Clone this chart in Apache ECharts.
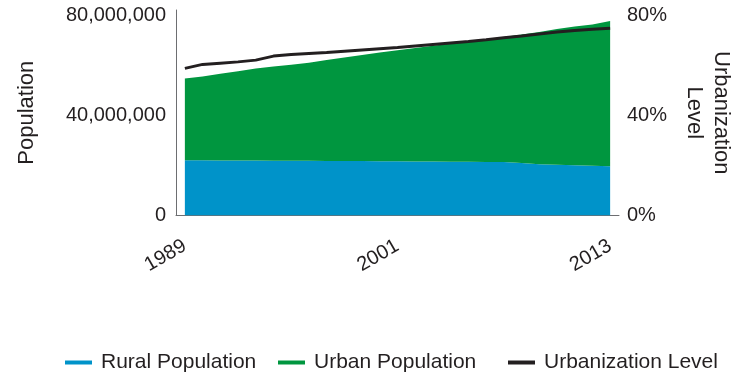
<!DOCTYPE html>
<html>
<head>
<meta charset="utf-8">
<script src="https://cdn.jsdelivr.net/npm/echarts@6/dist/echarts.min.js"></script>
<style>
html,body{margin:0;padding:0;background:#fff;}
#chart{width:743px;height:374px;}
</style>
</head>
<body>
<div id="chart"></div>
<script>
const years = ['1989','1990','1991','1992','1993','1994','1995','1996','1997','1998','1999','2000','2001','2002','2003','2004','2005','2006','2007','2008','2009','2010','2011','2012','2013'];
const ruralPopulation = [22000000,22000000,21950000,21900000,21900000,21850000,21800000,21800000,21750000,21700000,21700000,21650000,21600000,21550000,21500000,21450000,21400000,21350000,21300000,20900000,20500000,20300000,20100000,19900000,19700000];
const urbanPopulation = [32700000,33500000,34650000,35700000,36800000,37650000,38400000,39200000,40250000,41300000,42300000,43350000,44300000,45250000,46200000,47150000,48000000,48950000,49900000,51300000,52700000,54100000,55300000,56300000,57900000];
const urbanizationLevel = [58.7,60.3,60.8,61.3,62.0,63.6,64.2,64.6,65.0,65.5,66.0,66.5,67.0,67.6,68.2,68.8,69.4,70.1,70.9,71.6,72.4,73.2,73.8,74.3,74.7];
const populationTicks = [0, 40000000, 80000000];
const levelTicks = [0, 40, 80];
const seriesNames = ['Rural Population','Urban Population','Urbanization Level'];

const FONT = "'Liberation Sans', Arial, sans-serif";
const TXT = '#231f20';
const BLUE = '#0093c9';
const GREEN = '#00963f';
const BLACK = '#231f20';

const legendLefts = [65, 278, 508];
const legends = seriesNames.map((n, i) => ({
  left: legendLefts[i], top: 352, padding: 0,
  icon: 'rect', itemWidth: 27, itemHeight: 4,
  textStyle: {fontFamily: FONT, fontSize: 21, color: TXT, padding: [0,0,0,4]},
  data: [n]
}));

const chart = echarts.init(document.getElementById('chart'), null, {renderer:'canvas'});
chart.setOption({
  animation: false,
  textStyle: {fontFamily: FONT, color: TXT},
  grid: {left: 176, right: 122, top: 10, bottom: 158.5, containLabel: false},
  legend: legends,
  xAxis: {
    type: 'category', data: years, boundaryGap: true,
    axisLine: {show: true, lineStyle: {color: '#6d6e71', width: 1}},
    axisTick: {show: false},
    axisLabel: {interval: 11, rotate: 30, margin: 29, fontSize: 20, color: TXT, fontFamily: FONT}
  },
  yAxis: [{
    type: 'value', min: 0, max: 82000000, interval: 40000000,
    name: 'Population', nameLocation: 'middle', nameRotate: 90, nameGap: 138,
    nameTextStyle: {fontSize: 22, color: TXT, fontFamily: FONT},
    axisLine: {show: true, lineStyle: {color: '#6d6e71', width: 1}},
    axisTick: {show: false}, splitLine: {show: false},
    axisLabel: {margin: 10, fontSize: 20, color: TXT, fontFamily: FONT, padding: [4,0,0,0],
      formatter: v => populationTicks.includes(v) ? v.toLocaleString('en-US') : ''}
  },{
    type: 'value', min: 0, max: 82, interval: 40, position: 'right',
    name: 'Urbanization\nLevel', nameLocation: 'middle', nameRotate: -90, nameGap: 62,
    nameTextStyle: {fontSize: 22, lineHeight: 27, color: TXT, fontFamily: FONT, align: 'center'},
    axisLine: {show: false}, axisTick: {show: false}, splitLine: {show: false},
    axisLabel: {margin: 8, fontSize: 20, color: TXT, fontFamily: FONT, padding: [4,0,0,0],
      formatter: v => levelTicks.includes(v) ? v + '%' : ''}
  }],
  series: [{
    name: seriesNames[0], type: 'line', stack: 'pop', data: ruralPopulation,
    showSymbol: false, symbol: 'none', lineStyle: {width: 0}, itemStyle: {color: BLUE},
    areaStyle: {color: BLUE, opacity: 1}, z: 2
  },{
    name: seriesNames[1], type: 'line', stack: 'pop', data: urbanPopulation,
    showSymbol: false, symbol: 'none', lineStyle: {width: 0}, itemStyle: {color: GREEN},
    areaStyle: {color: GREEN, opacity: 1}, z: 2
  },{
    name: seriesNames[2], type: 'line', yAxisIndex: 1, data: urbanizationLevel,
    showSymbol: false, symbol: 'none', lineStyle: {width: 3, color: BLACK}, itemStyle: {color: BLACK}, z: 3
  }]
});
</script>
</body>
</html>
